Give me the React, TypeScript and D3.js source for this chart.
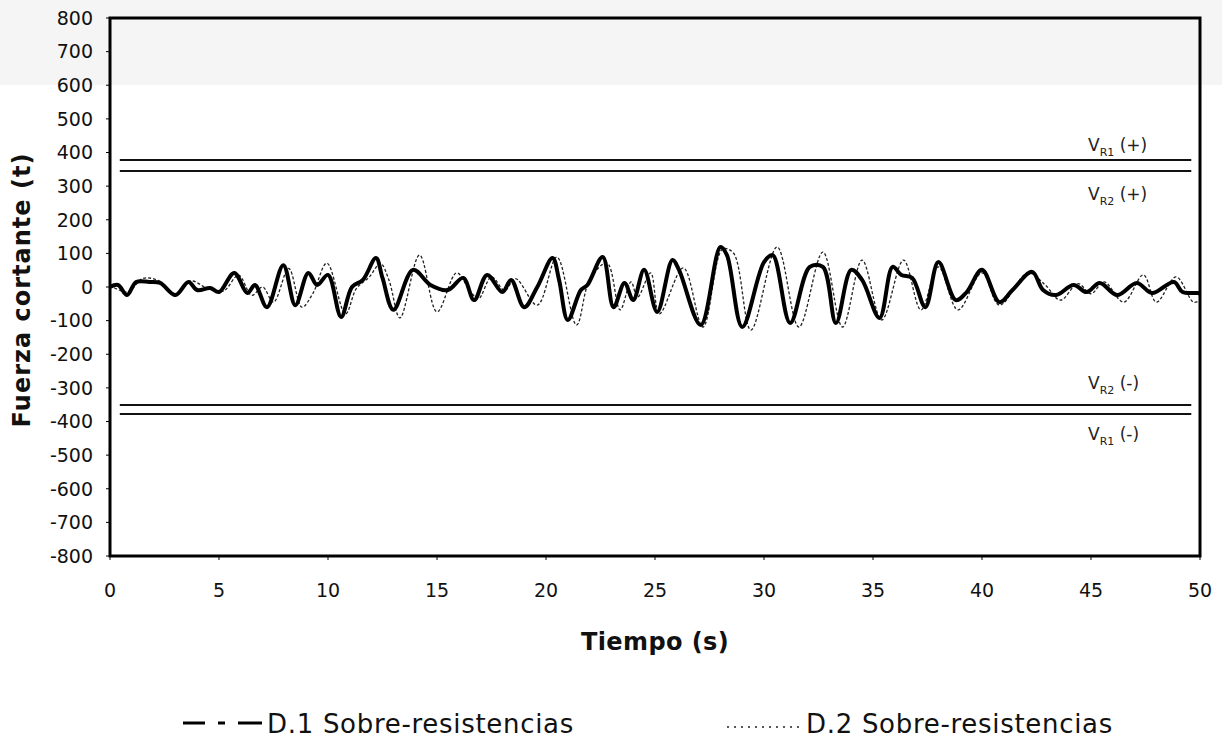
import React from 'react';
import * as d3 from 'd3';

// D.1 (thick solid) - time (s) and shear force (t)
const d1Time = [
	0, 0.37, 0.78, 1.2, 1.8, 2.3, 3.0, 3.6, 4.0, 4.6, 5.0, 5.7, 6.3, 6.65, 7.2, 7.95, 8.5, 9.1, 9.5, 10.0,
	10.6, 11.1, 11.6, 12.2, 12.5, 13.0, 13.9, 14.7, 15.5, 16.2, 16.7, 17.3, 18.0, 18.4, 19.0, 19.6, 20.3,
	20.6, 21.0, 21.6, 21.9, 22.6, 23.1, 23.6, 24.0, 24.5, 25.1, 25.8, 26.1, 27.1, 28.0, 28.3, 29.0, 30.0,
	30.4, 31.2, 32.1, 32.7, 33.3, 34.0, 34.5, 35.3, 35.9, 36.3, 36.8, 37.4, 38.0, 38.8, 39.3, 40.0, 40.8,
	41.4, 42.3, 42.8, 43.4, 44.2, 44.8, 45.4, 46.2, 47.1, 47.8, 48.8, 49.2, 49.9, 50,
];
const d1Value = [
	0, 6, -24, 15, 15, 12, -24, 15, -9, -3, -15, 42, -18, 6, -60, 65, -54, 42, 6, 36,
	-89, 0, 21, 86, 27, -68, 51, 6, -9, 27, -39, 36, -15, 21, -60, 0, 86,
	21, -98, -9, 6, 89, -60, 12, -39, 51, -74, 80, 51, -113, 119, 95, -119, 74,
	95, -107, 60, 60, -107, 51, 21, -92, 60, 36, 27, -60, 74, -39, -15, 51, -45,
	-9, 45, -9, -24, 6, -15, 12, -24, 12, -18, 15, -15, -18, -20,
];

// D.2 (thin dashed)
const d2Time = [
	0, 0.8, 1.5, 2.2, 3.0, 3.7, 4.5, 5.2, 5.9, 6.5, 7.0, 7.5, 8.2, 8.8, 9.3, 9.95, 10.8, 11.3, 11.9, 12.4,
	12.8, 13.3, 14.2, 15.0, 15.9, 16.5, 16.9, 17.5, 18.1, 18.6, 19.6, 20.5, 21.4, 22.0, 22.8, 23.4, 23.9,
	24.2, 24.8, 25.2, 26.3, 27.2, 28.1, 28.6, 29.4, 30.6, 31.6, 32.7, 33.6, 34.5, 35.4, 36.4, 37.2, 38.0,
	38.9, 40.0, 40.8, 42.1, 42.9, 43.6, 44.4, 45.0, 45.6, 46.5, 47.4, 48.0, 48.9, 49.7, 50,
];
const d2Value = [
	5, -15, 25, 20, -20, 18, -5, -12, 35, -25, 0, -45, 55, -60, -20, 71, -80, -5, 30, 70,
	20, -92, 95, -74, 42, -10, -35, 30, -10, 25, -54, 89, -113, 21, 71, -68, 15,
	-30, 42, -80, 57, -119, 113, 101, -128, 119, -119, 104, -119, 80, -98, 80, -68, 60,
	-68, 42, -54, 42, 6, -39, 10, -20, 15, -45, 36, -45, 30, -45, -40,
];

// resistance limits
const limitNames = ['R1', 'R2', 'R2', 'R1'];
const limitSigns = ['+', '+', '-', '-'];
const limitValues = [378, 345, -351, -378];

const yTicks = d3.range(-800, 801, 100);
const xTicks = d3.range(0, 51, 5);

const font = "'DejaVu Sans', Verdana, sans-serif";

const App: React.FC = () => {
	const width = 1222;
	const height = 745;
	const left = 110;
	const right = 1200;
	const top = 18;
	const bottom = 556;

	const x = d3.scaleLinear().domain([0, 50]).range([left, right]);
	const y = d3.scaleLinear().domain([-800, 800]).range([bottom, top]);

	const line = d3
		.line<[number, number]>()
		.x((d) => x(d[0]))
		.y((d) => y(d[1]))
		.curve(d3.curveCatmullRom.alpha(0.5));

	const d1 = d1Time.map((t, i) => [t, d1Value[i]] as [number, number]);
	const d2 = d2Time.map((t, i) => [t, d2Value[i]] as [number, number]);

	// label offsets for the limit lines (above for the outer/upper, below otherwise)
	const labelY = (v: number, i: number) =>
		i === 0 ? y(v) - 9 : i === 1 ? y(v) + 29 : i === 2 ? y(v) - 16 : y(v) + 26;

	return (
		<svg
			width={width}
			height={height}
			style={{ position: 'absolute', left: 0, top: 0, background: '#fff' }}
			fontFamily={font}
		>
			{/* scan shading at the top */}
			<rect x={0} y={0} width={width} height={85} fill='#f5f5f5' />

			{/* limit lines */}
			{limitValues.map((v, i) => (
				<line
					key={'l' + i}
					x1={x(0.45)}
					x2={x(49.6)}
					y1={y(v)}
					y2={y(v)}
					stroke='#111'
					strokeWidth={2}
				/>
			))}
			{limitValues.map((v, i) => (
				<text key={'t' + i} x={1088} y={labelY(v, i)} fontSize={17} fill='#222'>
					V
					<tspan fontSize={11} dy={5}>
						{limitNames[i]}
					</tspan>
					<tspan dy={-5}> ({limitSigns[i]})</tspan>
				</text>
			))}

			{/* series */}
			<path d={line(d2) ?? ''} fill='none' stroke='#222' strokeWidth={1.3} strokeDasharray='3,2' />
			<path
				d={line(d1) ?? ''}
				fill='none'
				stroke='#000'
				strokeWidth={4}
				strokeLinejoin='round'
			/>

			{/* frame */}
			<rect
				x={left}
				y={top}
				width={right - left}
				height={bottom - top}
				fill='none'
				stroke='#000'
				strokeWidth={3}
			/>

			{/* y axis */}
			{yTicks.map((t) => (
				<g key={'y' + t}>
					<line x1={left - 4} x2={left} y1={y(t)} y2={y(t)} stroke='#000' />
					<text x={93} y={y(t)} dy='0.36em' textAnchor='end' fontSize={19} fill='#111'>
						{t}
					</text>
				</g>
			))}

			{/* x axis */}
			{xTicks.map((t) => (
				<g key={'x' + t}>
					<line x1={x(t)} x2={x(t)} y1={bottom} y2={bottom + 4} stroke='#000' />
					<text x={x(t)} y={597} textAnchor='middle' fontSize={19} fill='#111'>
						{t}
					</text>
				</g>
			))}

			<text
				x={655}
				y={650}
				textAnchor='middle'
				fontSize={24}
				letterSpacing={0.4}
				fontWeight='bold'
				fill='#111'
			>
				Tiempo (s)
			</text>
			<text
				transform={`translate(30, ${(top + bottom) / 2 + 3}) rotate(-90)`}
				textAnchor='middle'
				fontSize={24}
				letterSpacing={1}
				fontWeight='bold'
				fill='#111'
			>
				Fuerza cortante (t)
			</text>

			{/* legend */}
			<g>
				<line x1={183} x2={205} y1={723} y2={723} stroke='#000' strokeWidth={3} />
				<line x1={218} x2={225} y1={723} y2={723} stroke='#000' strokeWidth={3} />
				<line x1={238} x2={262} y1={723} y2={723} stroke='#000' strokeWidth={3} />
				<text x={267} y={733} fontSize={26} letterSpacing={0.7} fill='#111'>
					D.1 Sobre-resistencias
				</text>
				<line
					x1={727}
					x2={800}
					y1={727}
					y2={727}
					stroke='#222'
					strokeWidth={1.5}
					strokeDasharray='2,5'
				/>
				<text x={806} y={733} fontSize={26} letterSpacing={0.7} fill='#111'>
					D.2 Sobre-resistencias
				</text>
			</g>
		</svg>
	);
};

export default App;
